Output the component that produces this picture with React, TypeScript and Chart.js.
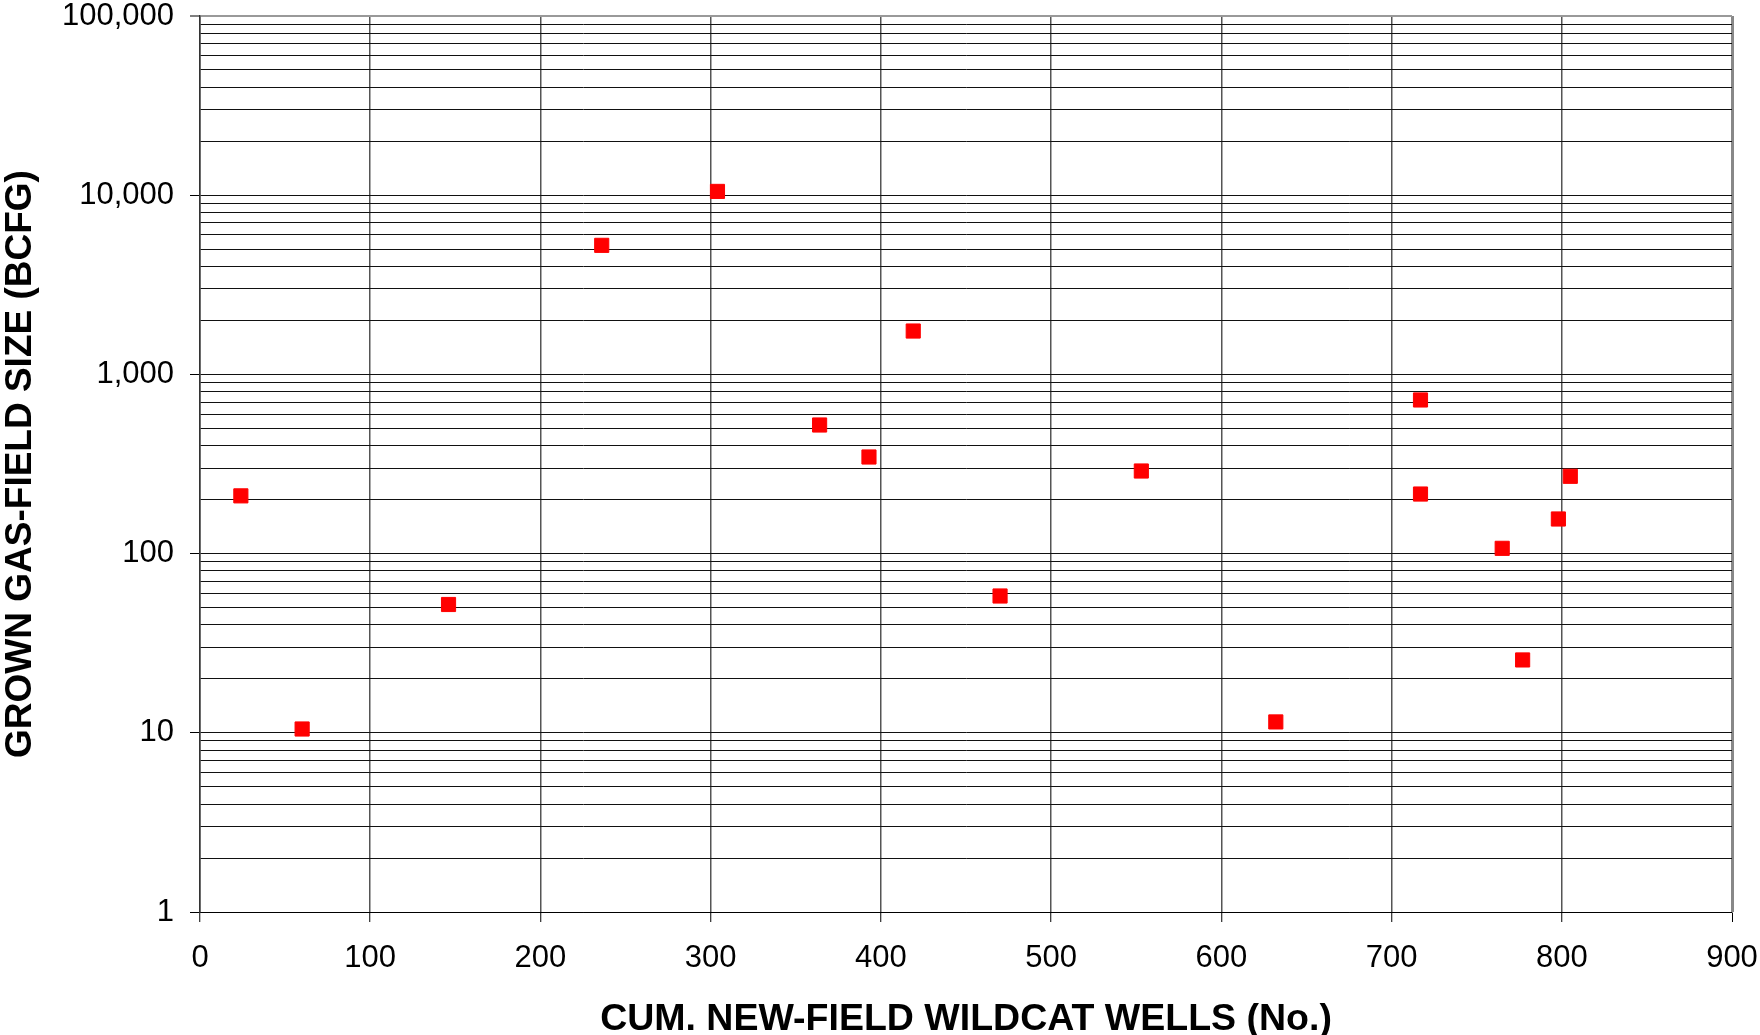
import React, { useEffect, useRef } from 'react';
import { Chart, registerables } from 'chart.js';

Chart.register(...registerables);

// ---- Data ----
const wellsCum: number[] = [24, 60, 146, 236, 304, 364, 393, 419, 470, 553, 632, 717, 717, 765, 777, 798, 805];
const fieldSizeBcfg: number[] = [210, 10.5, 52, 5250, 10500, 522, 346, 1746, 58, 289, 11.5, 720, 215, 107, 25.5, 156, 270];

const xTickValues: number[] = [0, 100, 200, 300, 400, 500, 600, 700, 800, 900];
const yMajorTicks: number[] = [1, 10, 100, 1000, 10000, 100000];
const yMinorMultipliers: number[] = [2, 3, 4, 5, 6, 7, 8, 9];

const xTitle = 'CUM. NEW-FIELD WILDCAT WELLS (No.)';
const yTitle = 'GROWN GAS-FIELD SIZE (BCFG)';

const FONT = "'Liberation Sans', Arial, Helvetica, sans-serif";

export default function App() {
  const canvasRef = useRef<HTMLCanvasElement | null>(null);

  useEffect(() => {
    if (!canvasRef.current) return;
    const majorSet = new Set(yMajorTicks);
    const yAll: number[] = [];
    yMajorTicks.forEach((m, i) => {
      yAll.push(m);
      if (i < yMajorTicks.length - 1) yMinorMultipliers.forEach((k) => yAll.push(m * k));
    });
    yAll.sort((a, b) => a - b);
    const yMax = yMajorTicks[yMajorTicks.length - 1];
    const xMax = xTickValues[xTickValues.length - 1];

    const chart = new Chart(canvasRef.current, {
      type: 'scatter',
      data: {
        datasets: [
          {
            data: wellsCum.map((x, i) => ({ x, y: fieldSizeBcfg[i] })),
            pointStyle: 'rect',
            pointRadius: 10,
            pointHoverRadius: 10,
            backgroundColor: '#ff0000',
            borderColor: '#ff0000',
            borderWidth: 1,
          },
        ],
      },
      options: {
        animation: false,
        responsive: false,
        layout: { padding: { left: 0, top: 16, right: 28, bottom: 0 } },
        plugins: { legend: { display: false }, tooltip: { enabled: false } },
        scales: {
          x: {
            type: 'linear',
            position: 'bottom',
            min: 0,
            max: xMax,
            afterBuildTicks: (s: any) => {
              s.ticks = xTickValues.map((v) => ({ value: v }));
            },
            afterFit: (s: any) => {
              s.height = 123;
              s.paddingLeft = 0;
              s.paddingRight = 0;
              s.paddingTop = 0;
              s.paddingBottom = 0;
            },
            ticks: {
              autoSkip: false,
              maxRotation: 0,
              padding: 18,
              color: '#000',
              font: { family: FONT, size: 31 },
            },
            grid: {
              color: (ctx: any) => (ctx.tick && ctx.tick.value === xMax ? '#888' : '#555'),
              lineWidth: (ctx: any) => (ctx.tick && ctx.tick.value === xMax ? 3 : 1.5),
              tickLength: 10,
              tickColor: '#000',
              tickWidth: 1,
            },
            border: { display: true, color: '#000', width: 1 },
            title: {
              display: true,
              text: xTitle,
              color: '#000',
              font: { family: FONT, size: 37.5, weight: 'bold', lineHeight: 0.8 },
              padding: { top: 0, bottom: 0 },
            },
          },
          y: {
            type: 'logarithmic',
            position: 'left',
            min: 1,
            max: yMax,
            afterBuildTicks: (s: any) => {
              s.ticks = yAll.map((v) => ({ value: v, major: majorSet.has(v) }));
            },
            afterFit: (s: any) => {
              s.width = 200;
              s.paddingLeft = 0;
              s.paddingRight = 0;
              s.paddingTop = 0;
              s.paddingBottom = 0;
            },
            ticks: {
              autoSkip: false,
              padding: 16,
              color: '#000',
              font: { family: FONT, size: 31, lineHeight: 1 },
              callback: (v: any) => (majorSet.has(Number(v)) ? Number(v).toLocaleString('en-US') : ''),
            },
            grid: {
              color: (ctx: any) => (ctx.tick && ctx.tick.value === yMax ? '#999' : '#111'),
              lineWidth: (ctx: any) => (ctx.tick && ctx.tick.value === yMax ? 2 : 1),
              tickLength: 10,
              tickColor: (ctx: any) => (ctx.tick && majorSet.has(ctx.tick.value) ? '#000' : 'rgba(0,0,0,0)'),
              tickWidth: 1,
            },
            border: { display: true, color: '#333', width: 1.5 },
            title: {
              display: true,
              text: yTitle,
              color: '#000',
              font: { family: FONT, size: 37, weight: 'bold', lineHeight: 1 },
              padding: { top: 2, bottom: 0 },
            },
          },
        },
      },
    } as any);

    return () => chart.destroy();
  }, []);

  return (
    <canvas
      ref={canvasRef}
      width={1760}
      height={1035}
      style={{ position: 'absolute', left: 0, top: 0, width: 1760, height: 1035, display: 'block', background: '#fff' }}
    />
  );
}
